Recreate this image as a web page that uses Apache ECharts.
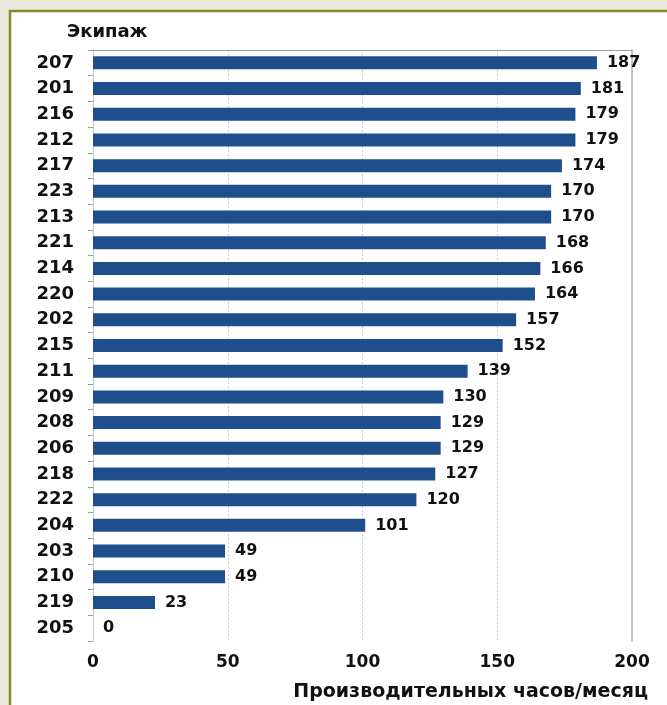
<!DOCTYPE html>
<html>
<head>
<meta charset="utf-8">
<script src="https://cdn.jsdelivr.net/npm/echarts@6/dist/echarts.min.js"></script>
<style>
  html, body { margin: 0; padding: 0; background: #e9e9dc; }
  #chart { width: 667px; height: 705px; }
</style>
</head>
<body>
<div id="chart"></div>
<script>
// Crew numbers, top to bottom
const crews = ['207','201','216','212','217','223','213','221','214','220','202','215','211','209','208','206','218','222','204','203','210','219','205'];
// Productive hours per month for each crew
const hours = [187,181,179,179,174,170,170,168,166,164,157,152,139,130,129,129,127,120,101,49,49,23,0];
// Value axis ticks
const xTicks = [0, 50, 100, 150, 200];

const fontFamily = 'DejaVu Sans';
const chart = echarts.init(document.getElementById('chart'));

chart.setOption({
  backgroundColor: '#e9e9dc',
  animation: false,
  graphic: [
    {
      type: 'rect',
      z: -10,
      shape: { x: 10, y: 11, width: 700, height: 720 },
      style: { fill: '#ffffff', stroke: '#86862a', lineWidth: 2.5 }
    },
    {
      type: 'text',
      left: 67, top: 23,
      style: { text: 'Экипаж', font: 'bold 18px "DejaVu Sans"', fill: '#111' }
    }
  ],
  grid: { left: 93, right: 35, top: 50, bottom: 64, containLabel: false },
  xAxis: [
    {
      type: 'value',
      min: xTicks[0],
      max: xTicks[xTicks.length - 1],
      interval: 50,
      position: 'bottom',
      axisLine: { show: false },
      axisTick: { show: false },
      axisLabel: {
        margin: 13,
        fontFamily, fontWeight: 'bold', fontSize: 17, color: '#111'
      },
      splitLine: { show: true, lineStyle: { color: '#cfcfcf', type: [2, 2], width: 1 } },
      name: 'Производительных часов/месяц',
      nameLocation: 'end',
      nameGap: 0,
      nameTextStyle: {
        fontFamily, fontWeight: 'bold', fontSize: 19, color: '#111',
        align: 'right', verticalAlign: 'top', padding: [42, -16, 0, 0]
      }
    },
    {
      type: 'value',
      min: xTicks[0],
      max: xTicks[xTicks.length - 1],
      position: 'top',
      axisLine: { show: true, onZero: false, lineStyle: { color: '#a0a0a0', width: 1 } },
      axisTick: { show: false },
      axisLabel: { show: false },
      splitLine: { show: false }
    }
  ],
  yAxis: [
    {
      type: 'category',
      data: crews,
      inverse: true,
      axisLine: { show: true, onZero: false, lineStyle: { color: '#c8c8c8' } },
      axisTick: { show: true, length: 5, lineStyle: { color: '#999' } },
      axisLabel: {
        margin: 19,
        fontFamily, fontWeight: 'bold', fontSize: 18, color: '#111'
      }
    },
    {
      type: 'category',
      data: crews,
      inverse: true,
      position: 'right',
      axisLine: { show: true, onZero: false, lineStyle: { color: '#b5b5b5', width: 1.5 } },
      axisTick: { show: false },
      axisLabel: { show: false }
    }
  ],
  series: [
    {
      type: 'bar',
      data: hours,
      barWidth: 13,
      itemStyle: { color: '#1f4e8c', borderWidth: 0 },
      label: {
        show: true,
        position: 'right',
        distance: 10,
        fontFamily, fontWeight: 'bold', fontSize: 16, color: '#111'
      }
    }
  ]
});
</script>
</body>
</html>
